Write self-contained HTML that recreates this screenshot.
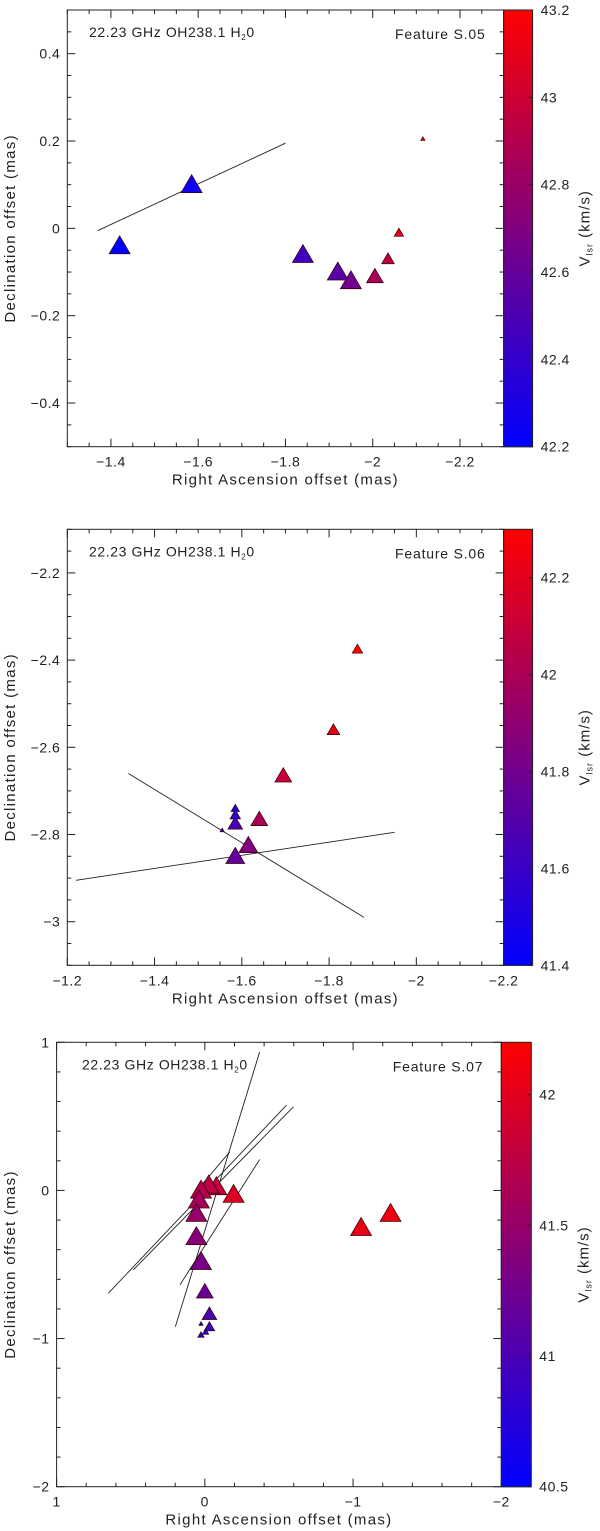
<!DOCTYPE html>
<html><head><meta charset="utf-8">
<style>
body{margin:0;background:#fff;}
svg{display:block;font-family:"Liberation Sans",sans-serif;}
text{fill:#222;}
</style></head>
<body>
<svg id="fig" width="600" height="1531" viewBox="0 0 600 1531"></svg>
<script>
// Panel S.05
const p1X=[-1.42,-1.585,-1.84,-1.92,-1.95,-2.005,-2.035,-2.06,-2.115];
const p1Y=[-0.04,0.10,-0.06,-0.10,-0.12,-0.11,-0.07,-0.01,0.205];
const p1V=[42.2,42.25,42.45,42.55,42.65,42.85,42.95,43.1,43.15];
const p1S=[10,10,10,10,10,8,6,4.5,2];
const p1Lines=[[-1.37,-0.005,-1.8,0.195]];
const p1XTicks=[-1.4,-1.6,-1.8,-2,-2.2];
const p1YTicks=[0.4,0.2,0,-0.2,-0.4];
const p1CTicks=[42.2,42.4,42.6,42.8,43,43.2];
// Panel S.06
const p2X=[-1.865,-1.81,-1.695,-1.64,-1.615,-1.585,-1.585,-1.585,-1.585,-1.555];
const p2Y=[-2.375,-2.56,-2.665,-2.765,-2.825,-2.85,-2.775,-2.755,-2.74,-2.79];
const p2V=[42.3,42.2,42.1,42.0,41.85,41.75,41.65,41.55,41.5,41.5];
const p2S=[5,6,8,8,9,9,7,5,4,2];
const p2Lines=[[-1.34,-2.66,-1.88,-2.99],[-1.22,-2.905,-1.95,-2.795]];
const p2XTicks=[-1.2,-1.4,-1.6,-1.8,-2,-2.2];
const p2YTicks=[-2.2,-2.4,-2.6,-2.8,-3];
const p2CTicks=[41.4,41.6,41.8,42,42.2];
// Panel S.07
const p3X=[-1.253,-1.054,-0.194,-0.078,-0.026,0.026,0.04,0.057,0.057,0.026,0,-0.031,-0.031,0.026,-0.005,0.026];
const p3Y=[-0.155,-0.25,-0.027,0.025,0.036,0.002,-0.065,-0.155,-0.312,-0.48,-0.683,-0.834,-0.92,-0.975,-0.955,-0.9];
const p3V=[42.1,42.05,41.95,41.8,41.75,41.7,41.6,41.5,41.4,41.3,41.2,41.0,40.85,40.7,40.75,40.8];
const p3S=[10,10,10,10,10,10,10,10,10,10,8,7,5,3,3,2];
const p3Lines=[[0.199,-0.92,-0.37,0.935],[0.651,-0.694,-0.55,0.575],[0.483,-0.537,-0.597,0.564],[0.168,-0.638,-0.37,0.209],[-0.168,0.26,0.09,-0.043]];
const p3XTicks=[1,0,-1,-2];
const p3YTicks=[1,0,-1,-2];
const p3CTicks=[40.5,41,41.5,42];

const NS='http://www.w3.org/2000/svg';
const svg=document.getElementById('fig');
function mk(tag,attrs,parent){const e=document.createElementNS(NS,tag);for(const k in attrs)e.setAttribute(k,attrs[k]);(parent||svg).appendChild(e);return e;}
function fmt(v){return (Math.round(v*10)/10).toString().replace('-','\u2212');}

function panel(cfg){
  const g=mk('g',{});
  
  
  const L=cfg.left,R=cfg.right,T=cfg.top,B=cfg.bottom;
  const sx=v=>L+(v-cfg.x0)/(cfg.x1-cfg.x0)*(R-L);
  const sy=v=>T+(cfg.y1-v)/(cfg.y1-cfg.y0)*(B-T);
  const cy=v=>T+(cfg.c1-v)/(cfg.c1-cfg.c0)*(B-T);
  const col=v=>{let t=(v-cfg.c0)/(cfg.c1-cfg.c0);t=Math.max(0,Math.min(1,t));return `rgb(${Math.round(255*t)},0,${Math.round(255*(1-t))})`;};
  const cb=mk('g',{},g);
  
  
  const n=90;
  for(let i=0;i<n;i++){
    const r=mk('rect',{x:R,y:T+(B-T)*i/n,width:cfg.cbw,height:(B-T)/n+0.6,fill:col(cfg.c1-(cfg.c1-cfg.c0)*(i+0.5)/n)},cb);
    
    
  }
  mk('rect',{x:R,y:T,width:cfg.cbw,height:B-T,fill:'none',stroke:'#222','stroke-width':1},cb);
  cfg.cticks.forEach(v=>{
    const y=cy(v);
    mk('line',{x1:R+cfg.cbw-4,x2:R+cfg.cbw,y1:y,y2:y,stroke:'#222'},cb);
    const t=mk('text',{x:R+cfg.cbw+8,y:y+5,'font-size':14,'letter-spacing':0.5},cb);
    t.textContent=fmt(v);
    
    
  });
  const ct=mk('text',{transform:`translate(${R+cfg.cbw+57},${(T+B)/2}) rotate(-90)`,'text-anchor':'middle','font-size':15,'letter-spacing':1},g);
  ct.innerHTML='V<tspan font-size="9" dy="3">lsr</tspan><tspan dy="-3">  (km/s)</tspan>';
  
  
  mk('rect',{x:L,y:T,width:R-L,height:B-T,fill:'none',stroke:'#222','stroke-width':1},g);
  for(let v=Math.min(cfg.x0,cfg.x1);v<=Math.max(cfg.x0,cfg.x1)+1e-9;v+=cfg.xminor){
    const x=sx(v);const major=cfg.xticks.some(t=>Math.abs(t-v)<1e-6);const l=major?8:4;
    mk('line',{x1:x,x2:x,y1:B,y2:B-l,stroke:'#222'},g);mk('line',{x1:x,x2:x,y1:T,y2:T+l,stroke:'#222'},g);
  }
  for(let v=cfg.y0;v<=cfg.y1+1e-9;v+=cfg.yminor){
    const y=sy(v);const major=cfg.yticks.some(t=>Math.abs(t-v)<1e-6);const l=major?8:4;
    mk('line',{x1:L,x2:L+l,y1:y,y2:y,stroke:'#222'},g);mk('line',{x1:R,x2:R-l,y1:y,y2:y,stroke:'#222'},g);
  }
  cfg.xticks.forEach(v=>{const t=mk('text',{x:sx(v),y:B+20,'text-anchor':'middle','font-size':14,'letter-spacing':0.5},g);t.textContent=fmt(v);
    });
  cfg.yticks.forEach(v=>{const t=mk('text',{x:L-7,y:sy(v)+5,'text-anchor':'end','font-size':14,'letter-spacing':0.5},g);t.textContent=fmt(v);
    });
  const xt=mk('text',{x:(L+R)/2,y:B+38,'text-anchor':'middle','font-size':15,'letter-spacing':1.3},g);xt.textContent='Right Ascension offset (mas)';
  
  const yt=mk('text',{transform:`translate(15,${(T+B)/2}) rotate(-90)`,'text-anchor':'middle','font-size':15,'letter-spacing':1.3},g);yt.textContent='Declination offset (mas)';
  
  const lt=mk('text',{x:cfg.labX,y:T+27,'font-size':14,'letter-spacing':0.6},g);lt.innerHTML='22.23 GHz OH238.1 H<tspan font-size="8" dy="3">2</tspan><tspan dy="-3">0</tspan>';
  
  const ft=mk('text',{x:R-18,y:T+29,'text-anchor':'end','font-size':14,'letter-spacing':0.8},g);ft.textContent=cfg.feature;
  
  cfg.lines.forEach(l=>{const e=mk('line',{x1:sx(l[0]),y1:sy(l[1]),x2:sx(l[2]),y2:sy(l[3]),stroke:'#222','stroke-width':0.9},g);
    });
  cfg.X.forEach((xv,i)=>{
    const x=sx(xv),y=sy(cfg.Y[i]),s=cfg.S[i];
    const p=mk('polygon',{points:`${x},${y-s} ${x-s*1.05},${y+s*0.8} ${x+s*1.05},${y+s*0.8}`,fill:col(cfg.V[i]),stroke:'#300','stroke-width':0.7},g);
    
  });
}
panel({name:'panel-s05',left:67.3,right:503.6,top:10,bottom:446.7,cbw:29,x0:-1.3,x1:-2.3,y0:-0.5,y1:0.5,c0:42.2,c1:43.2,
  xticks:p1XTicks,yticks:p1YTicks,cticks:p1CTicks,xminor:0.05,yminor:0.05,X:p1X,Y:p1Y,V:p1V,S:p1S,lines:p1Lines,feature:'Feature S.05',labX:89});
panel({name:'panel-s06',left:67.3,right:503.6,top:529.3,bottom:965.3,cbw:29,x0:-1.2,x1:-2.2,y0:-3.1,y1:-2.1,c0:41.4,c1:42.3,
  xticks:p2XTicks,yticks:p2YTicks,cticks:p2CTicks,xminor:0.05,yminor:0.05,X:p2X,Y:p2Y,V:p2V,S:p2S,lines:p2Lines,feature:'Feature S.06',labX:89});
panel({name:'panel-s07',left:56.6,right:501.3,top:1042.3,bottom:1486.7,cbw:30,x0:1,x1:-2,y0:-2,y1:1,c0:40.5,c1:42.2,
  xticks:p3XTicks,yticks:p3YTicks,cticks:p3CTicks,xminor:0.2,yminor:0.2,X:p3X,Y:p3Y,V:p3V,S:p3S,lines:p3Lines,feature:'Feature S.07',labX:82});
</script>
</body></html>
